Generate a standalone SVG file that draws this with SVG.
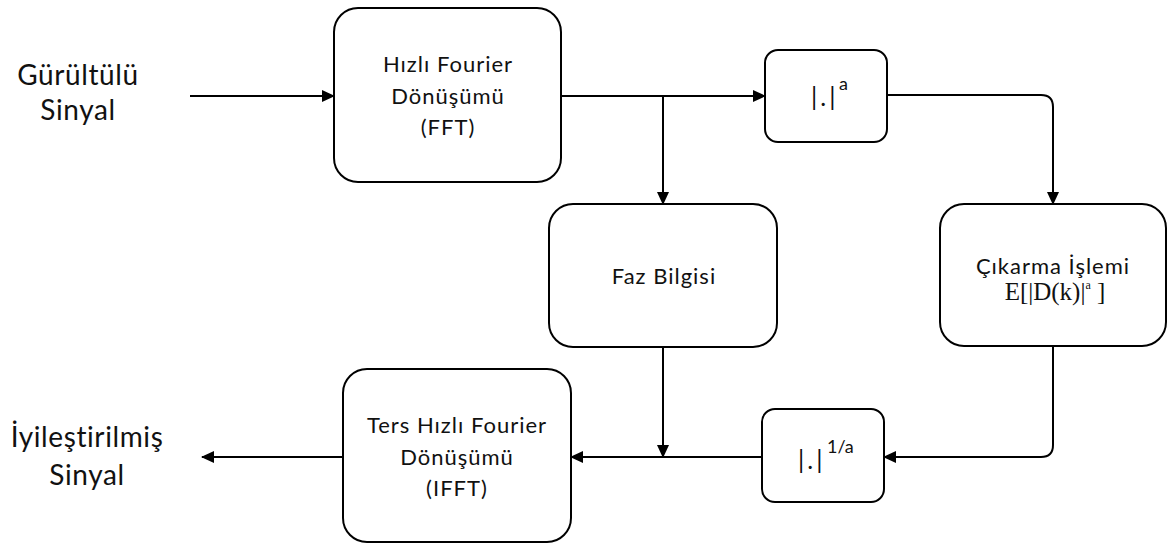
<svg xmlns="http://www.w3.org/2000/svg" width="1171" height="544" viewBox="0 0 1171 544">
  <defs>
    <marker id="arrow" markerUnits="userSpaceOnUse" markerWidth="13" markerHeight="12" refX="12" refY="6" orient="auto">
      <path d="M0,0 L13,6 L0,12 z" fill="#000"/>
    </marker>
    <style>
      .box { fill: #fff; stroke: #000; stroke-width: 2; }
      .wire { fill: none; stroke: #000; stroke-width: 2; marker-end: url(#arrow); }
      .lbl { font-family: Lato, "Liberation Sans", sans-serif; font-size: 22px; fill: #111; text-anchor: middle; letter-spacing: 1px; }
      .io { font-family: Lato, "Liberation Sans", sans-serif; font-size: 28px; fill: #111; text-anchor: middle; letter-spacing: 0.6px; }
      .bars { font-family: Lato, "Liberation Sans", sans-serif; font-size: 25px; fill: #111; letter-spacing: 3px; }
      .math { font-family: "Liberation Serif", serif; font-size: 25px; fill: #111; text-anchor: middle; }
      .sup { font-size: 18px; letter-spacing: 0; }
    </style>
  </defs>

  <rect width="1171" height="544" fill="#fff"/>

  <!-- signal labels -->
  <g id="input-label">
    <text class="io" x="78" y="85">Gürültülü</text>
    <text class="io" x="78" y="120">Sinyal</text>
  </g>
  <g id="output-label">
    <text class="io" x="87" y="447">İyileştirilmiş</text>
    <text class="io" x="87" y="485">Sinyal</text>
  </g>

  <!-- connectors -->
  <g id="connectors">
    <path class="wire" d="M190,96 H334"/>
    <path class="wire" d="M561,96 H765"/>
    <path class="wire" d="M663,96 V204"/>
    <path class="wire" d="M887,95 H1041 Q1053,95 1053,107 V204"/>
    <path class="wire" d="M1053,346 V445 Q1053,457 1041,457 H884"/>
    <path class="wire" d="M762,457 H571"/>
    <path class="wire" d="M663,347 V457"/>
    <path class="wire" d="M343,457 H202"/>
  </g>

  <!-- FFT -->
  <g id="fft">
    <rect class="box" x="334" y="8" width="227" height="174" rx="24"/>
    <text class="lbl" x="448" y="72">Hızlı Fourier</text>
    <text class="lbl" x="448" y="104">Dönüşümü</text>
    <text class="lbl" x="448" y="135">(FFT)</text>
  </g>

  <!-- magnitude power a -->
  <g id="mag-pow">
    <rect class="box" x="765" y="50" width="122" height="92" rx="13"/>
    <text class="bars" x="811" y="106">|.|<tspan class="sup" x="839" y="90">a</tspan></text>
  </g>

  <!-- phase -->
  <g id="phase">
    <rect class="box" x="549" y="204" width="228" height="143" rx="24"/>
    <text class="lbl" x="664" y="284">Faz Bilgisi</text>
  </g>

  <!-- subtraction -->
  <g id="subtract">
    <rect class="box" x="940" y="204" width="226" height="142" rx="24"/>
    <text class="lbl" x="1053" y="274">Çıkarma İşlemi</text>
    <text class="math" x="1055" y="300">E[|D(k)|<tspan dy="-11" style="font-size:12px">a</tspan><tspan dy="11"> ]</tspan></text>
  </g>

  <!-- magnitude power 1/a -->
  <g id="mag-root">
    <rect class="box" x="762" y="409" width="122" height="93" rx="13"/>
    <text class="bars" x="798" y="469">|.|<tspan class="sup" x="827" y="453">1/a</tspan></text>
  </g>

  <!-- IFFT -->
  <g id="ifft">
    <rect class="box" x="343" y="369" width="228" height="173" rx="24"/>
    <text class="lbl" x="457" y="433">Ters Hızlı Fourier</text>
    <text class="lbl" x="457" y="465">Dönüşümü</text>
    <text class="lbl" x="457" y="496">(IFFT)</text>
  </g>
</svg>
